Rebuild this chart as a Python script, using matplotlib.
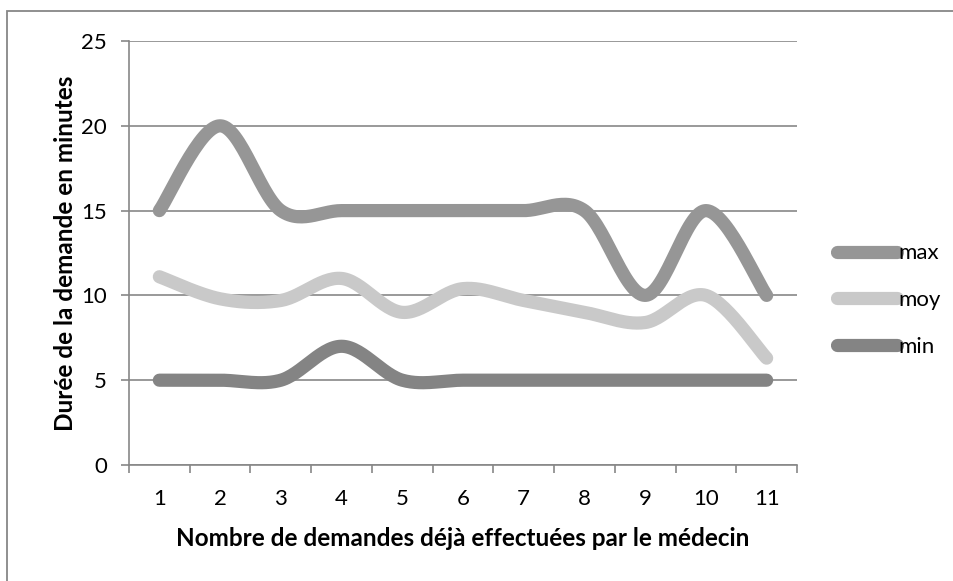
import numpy as np
import matplotlib.pyplot as plt
from matplotlib.patches import Rectangle

plt.rcParams['font.family'] = ['Lato', 'DejaVu Sans']

# données
demandes = [1, 2, 3, 4, 5, 6, 7, 8, 9, 10, 11]
duree_max = [15, 20, 15, 15, 15, 15, 15, 15, 10, 15, 10]
duree_moy = [11.1, 9.8, 9.7, 11.0, 9.0, 10.4, 9.7, 9.0, 8.4, 10.0, 6.3]
duree_min = [5, 5, 5, 7, 5, 5, 5, 5, 5, 5, 5]


def lissage(x, y, n=30):
    """courbe lissée façon Excel (Bezier / Catmull-Rom)"""
    x = np.asarray(x, float)
    y = np.asarray(y, float)
    px = np.concatenate([[x[0]], x, [x[-1]]])
    py = np.concatenate([[y[0]], y, [y[-1]]])
    xs, ys = [], []
    t = np.linspace(0, 1, n)
    for i in range(1, len(px) - 2):
        p0 = np.array([px[i], py[i]])
        p3 = np.array([px[i + 1], py[i + 1]])
        p1 = p0 + (np.array([px[i + 1], py[i + 1]]) - np.array([px[i - 1], py[i - 1]])) / 6
        p2 = p3 - (np.array([px[i + 2], py[i + 2]]) - np.array([px[i], py[i]])) / 6
        b = ((1 - t) ** 3)[:, None] * p0 + (3 * (1 - t) ** 2 * t)[:, None] * p1 \
            + (3 * (1 - t) * t ** 2)[:, None] * p2 + (t ** 3)[:, None] * p3
        xs.extend(b[:, 0])
        ys.extend(b[:, 1])
    return xs, ys


fig = plt.figure(figsize=(9.54, 5.81), dpi=100)
ax = fig.add_axes([129 / 954, 1 - 465 / 581, (797 - 129) / 954, (465 - 41) / 581])

series = [('max', duree_max, '#969696'),
          ('moy', duree_moy, '#c9c9c9'),
          ('min', duree_min, '#848484')]
for nom, vals, col in series:
    xs, ys = lissage(demandes, vals)
    ax.plot(xs, ys, color=col, lw=9.5, solid_capstyle='round', label=nom, zorder=3)

ax.set_xlim(0.5, 11.5)
ax.set_ylim(0, 25)
ax.set_yticks(range(0, 26, 5))
ax.yaxis.grid(True, color='#878787', lw=1.2)
ax.set_axisbelow(True)

ax.set_xticks(demandes)
ax.set_xticks(np.arange(0.5, 12, 1), minor=True)
ax.tick_params(axis='x', which='major', length=0, pad=17, labelsize=16)
ax.tick_params(axis='x', which='minor', length=6, color='#878787', width=1.2)
ax.tick_params(axis='y', length=6, color='#878787', width=1.2, labelsize=16, pad=10)

for s in ['top', 'right']:
    ax.spines[s].set_visible(False)
for s in ['left', 'bottom']:
    ax.spines[s].set_color('#878787')
    ax.spines[s].set_linewidth(1.2)

ax.set_xlabel('Nombre de demandes déjà effectuées par le médecin',
              fontsize=17.5, fontweight='bold', labelpad=13)
ax.set_ylabel('Durée de la demande en minutes', fontsize=17.5, fontweight='bold', labelpad=3)

leg = ax.legend(loc='center left', bbox_to_anchor=(1.03, 0.389), frameon=False,
                fontsize=16, handlelength=2.7, handletextpad=0.05, labelspacing=1.2)

# cadre extérieur du graphique
fig.patches.append(Rectangle((7 / 954, -0.1), 1.1, 1 - 11 / 581 + 0.1,
                             transform=fig.transFigure, fill=False,
                             edgecolor='#878787', lw=1.3))

fig.savefig('out.png', dpi=100)
